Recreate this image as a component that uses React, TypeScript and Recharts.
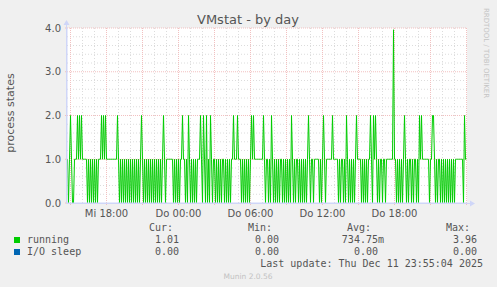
import { LineChart, Line, XAxis, YAxis, ReferenceLine } from "recharts";

// running processes, one value per 5 minute slot (Mi 14:40 .. Do 23:55)
const running1440 = [
  1, 0, 1, 2, 1, 0, 0, 1, 1, 1, 2, 1, 2, 1, 2, 1, 1, 1, 1, 1, 0, 1, 0, 1, 0, 1, 0, 1, 0, 1, 0, 1, 1,
  1, 2, 1, 2, 1, 2, 1, 1, 1, 1, 1, 1, 1, 1, 1, 1, 1, 2, 1, 0, 1, 0, 1, 0, 1, 0, 1, 0, 1, 0, 1, 0, 1,
];
const running2010 = [
  0, 1, 0, 1, 0, 1, 0, 1, 2, 1, 0, 1, 0, 1, 0, 1, 0, 1, 0, 1, 0, 1, 0, 1, 0, 1, 0, 1, 0, 1, 2, 1, 0, 1,
  1, 1, 1, 1, 1, 1, 0, 1, 0, 1, 0, 1, 0, 1, 1, 2, 1, 1, 0, 1, 0, 2, 1, 0, 1, 0, 1, 0, 1, 0, 1, 1, 1,
];
const running0145 = [
  2, 1, 0, 2, 1, 0, 2, 0, 1, 0, 2, 1, 0, 1, 1, 0, 1, 0, 1, 0, 1, 0, 1, 1, 0, 1, 0, 1, 0, 1, 0, 1, 1,
  2, 1, 1, 1, 2, 1, 1, 1, 0, 1, 0, 1, 0, 1, 0, 1, 0, 1, 2, 1, 2, 1, 1, 1, 1, 1, 1, 1, 1, 1, 2, 1, 0, 1,
];
const running0720 = [
  1, 0, 1, 0, 2, 1, 0, 1, 0, 1, 0, 1, 0, 1, 1, 0, 1, 0, 1, 0, 1, 0, 1, 0, 2, 1, 0, 1, 0, 1, 1, 0, 1,
  0, 1, 0, 1, 0, 1, 0, 1, 2, 1, 0, 1, 1, 0, 1, 1, 1, 1, 1, 0, 1, 0, 1, 2, 1, 0, 1, 1, 1, 1, 1, 1, 2, 1,
];
const running1255 = [
  1, 1, 1, 1, 0, 1, 0, 1, 1, 0, 1, 0, 2, 1, 0, 1, 0, 1, 0, 1, 0, 1, 2, 1, 1, 1, 1, 0, 1, 0, 1, 0, 1,
  0, 1, 1, 2, 1, 0, 2, 1, 2, 1, 0, 1, 0, 1, 1, 0, 1, 1, 0, 1, 1, 1, 1, 1, 1, 1, 3.96, 1, 1, 0, 1, 0, 1, 0,
];
const running1830 = [
  1, 0, 1, 2, 1, 0, 1, 0, 1, 1, 0, 1, 0, 1, 1, 0, 1, 0, 2, 1, 2, 1, 1, 1, 1, 1, 1, 1, 0, 1, 1, 2, 2,
  1, 0, 1, 0, 1, 1, 0, 1, 0, 1, 0, 1, 0, 1, 0, 1, 0, 1, 0, 1, 0, 1, 1, 1, 1, 1, 1, 1, 1, 0, 2, 1, 1.01,
];

const running = [
  ...running1440,
  ...running2010,
  ...running0145,
  ...running0720,
  ...running1255,
  ...running1830,
];

const timeLabels = ["Mi 18:00", "Do 00:00", "Do 06:00", "Do 12:00", "Do 18:00"];
const yTicks = [0, 1, 2, 3, 4];

const legendRows = [
  { name: "running", color: "#00cc00", cur: "1.01", min: "0.00", avg: "734.75m", max: "3.96" },
  { name: "I/O sleep", color: "#0066b3", cur: "0.00", min: "0.00", avg: "0.00", max: "0.00" },
];

const W = 497;
const H = 287;
const FIRST_HOUR = 3.5; // slot position of the first full hour (15:00)
const AXIS = "#cfd6f8";
const FONT = "#555555";
const MGRID = "#f2c0c0";
const GRID = "#dcdcdc";

const data = running.map((v, i) => ({ slot: i + 0.5, running: v }));

const hourLines = Array.from({ length: 34 }, (_, k) => FIRST_HOUR + 12 * k);
const majorX = hourLines.filter((_, k) => k % 3 === 0);
const minorX = hourLines.filter((_, k) => k % 3 !== 0);
const labelX = majorX.filter((_, k) => k % 2 === 1);
const minorY = Array.from({ length: 20 }, (_, k) => (k + 1) * 0.2).filter(
  (v) => Math.abs(v - Math.round(v)) > 0.01
);

const xLabel = (v: number) => timeLabels[labelX.indexOf(v)] ?? "";

export default function App() {
  return (
    <div
      style={{
        position: "absolute",
        left: 0,
        top: 0,
        width: W,
        height: H,
        background: "#f0f0f0",
      }}
    >
      <LineChart
        width={W}
        height={H}
        data={data}
        margin={{ top: 28, right: 30, left: 0, bottom: 0 }}
      >
        <rect x={67} y={28} width={400} height={175} fill="#ffffff" />
        {minorY.map((v) => (
          <ReferenceLine key={`my${v}`} y={v} stroke={GRID} strokeDasharray="1 2" />
        ))}
        {minorX.map((v) => (
          <ReferenceLine key={`mx${v}`} x={v} stroke={GRID} strokeDasharray="1 2" />
        ))}
        {yTicks.slice(1).map((v) => (
          <ReferenceLine key={`My${v}`} y={v} stroke={MGRID} strokeDasharray="1 1" />
        ))}
        {majorX.map((v) => (
          <ReferenceLine key={`Mx${v}`} x={v} stroke={MGRID} strokeDasharray="1 1" />
        ))}
        <XAxis
          dataKey="slot"
          type="number"
          domain={[0, 400]}
          ticks={majorX}
          interval={0}
          tickFormatter={xLabel}
          height={84}
          tickSize={2}
          tickMargin={5}
          axisLine={{ stroke: AXIS }}
          tickLine={{ stroke: MGRID }}
          tick={{ fill: FONT, fontSize: 10, fontFamily: "DejaVu Sans" }}
        />
        <YAxis
          type="number"
          domain={[0, 4]}
          ticks={yTicks}
          interval={0}
          tickFormatter={(v: number) => v.toFixed(1)}
          width={67}
          tickSize={2}
          tickMargin={4}
          axisLine={{ stroke: AXIS }}
          tickLine={{ stroke: MGRID }}
          tick={{ fill: FONT, fontSize: 10, fontFamily: "DejaVu Sans" }}
        />
        <Line
          dataKey="running"
          type="linear"
          stroke="#00cc00"
          strokeWidth={1}
          dot={false}
          isAnimationActive={false}
        />
      </LineChart>
      <svg
        width={W}
        height={H}
        style={{ position: "absolute", left: 0, top: 0, pointerEvents: "none" }}
        fontFamily="DejaVu Sans"
      >
        <line x1={67} y1={203.5} x2={472} y2={203.5} stroke={AXIS} />
        <line x1={66.5} y1={22} x2={66.5} y2={203.5} stroke={AXIS} />
        <polygon points="470,200.5 475,203.5 470,206.5" fill={AXIS} />
        <polygon points="63.5,25 66.5,20 69.5,25" fill={AXIS} />
        <text x={248} y={24} textAnchor="middle" fontSize={13} fill={FONT}>
          VMstat - by day
        </text>
        <text
          transform="translate(14,113) rotate(-90)"
          textAnchor="middle"
          fontSize={11}
          fill={FONT}
        >
          process states
        </text>
        <text
          transform="translate(484,53) rotate(90)"
          textAnchor="middle"
          fontSize={7}
          fill="#c4c4c4"
        >
          RRDTOOL / TOBI OETIKER
        </text>
        <g fontFamily="DejaVu Sans Mono" fontSize={10} fill={FONT}>
          <text x={173} y={231} textAnchor="end">Cur:</text>
          <text x={272} y={231} textAnchor="end">Min:</text>
          <text x={371} y={231} textAnchor="end">Avg:</text>
          <text x={470} y={231} textAnchor="end">Max:</text>
          {legendRows.map((r, i) => {
            const y = 243 + i * 12;
            return (
              <g key={r.name}>
                <rect x={14} y={y - 6} width={6} height={6} fill={r.color} />
                <text x={27} y={y}>{r.name}</text>
                <text x={179} y={y} textAnchor="end">{r.cur}</text>
                <text x={279} y={y} textAnchor="end">{r.min}</text>
                <text x={i === 0 ? 384 : 378} y={y} textAnchor="end">{r.avg}</text>
                <text x={477} y={y} textAnchor="end">{r.max}</text>
              </g>
            );
          })}
          <text x={483} y={267} textAnchor="end">
            Last update: Thu Dec 11 23:55:04 2025
          </text>
        </g>
        <text x={248} y={279} textAnchor="middle" fontSize={7.5} fill="#c2c2c2">
          Munin 2.0.56
        </text>
      </svg>
    </div>
  );
}
